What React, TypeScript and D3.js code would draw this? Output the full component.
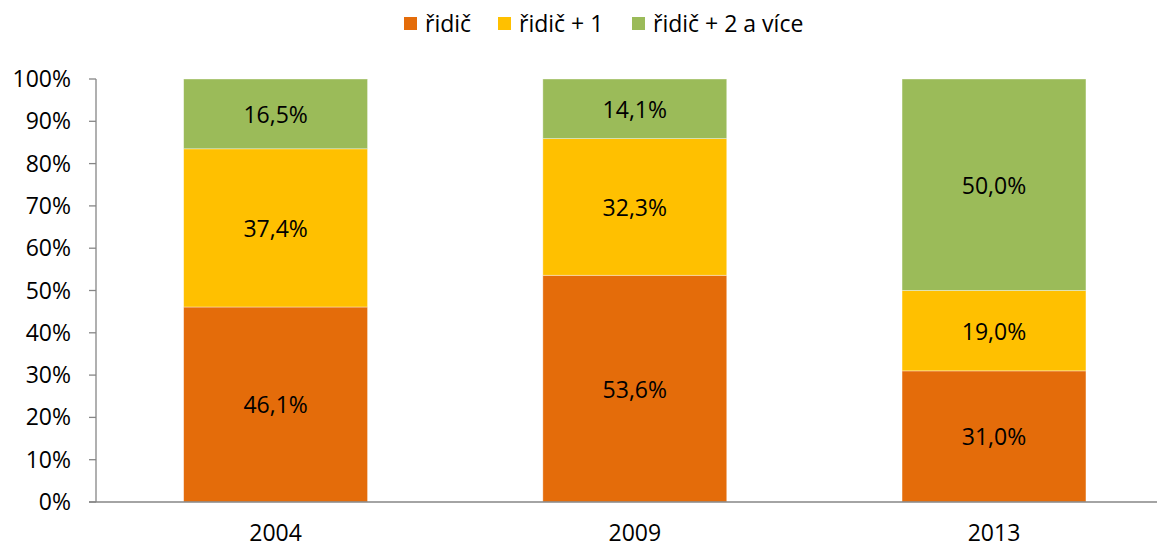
import React from "react";
import * as d3 from "d3";

const categories = ["2004", "2009", "2013"];
const seriesNames = ["řidič", "řidič + 1", "řidič + 2 a více"];
const ridic = [46.1, 53.6, 31.0];
const ridic1 = [37.4, 32.3, 19.0];
const ridic2 = [16.5, 14.1, 50.0];
const yTicks = [0, 10, 20, 30, 40, 50, 60, 70, 80, 90, 100];
const colors = ["#E46C0A", "#FFC000", "#9BBB59"];

const W = 1157;
const H = 547;
const FONT = "'Open Sans', sans-serif";
const FS = 23;

export default function App() {
  const x = d3.scaleBand<string>().domain(categories).range([96, 1173.6]).paddingInner(0.488).paddingOuter(0.244);
  const y = d3.scaleLinear().domain([0, 100]).range([502, 79]);
  const series = [ridic, ridic1, ridic2];
  const data = categories.map((c, i) => ({ cat: c, s0: ridic[i], s1: ridic1[i], s2: ridic2[i] }));
  const stack = d3.stack<any>().keys(["s0", "s1", "s2"]);
  const stacked = stack(data);
  const fmt = (v: number) => v.toFixed(1).replace(".", ",") + "%";

  const legendItems = [
    { sq: 404, tx: 425 },
    { sq: 498, tx: 519 },
    { sq: 632, tx: 653 },
  ];

  return (
    <svg width={W} height={H} style={{ position: "absolute", left: 0, top: 0, background: "#fff" }} fontFamily={FONT}>
      {seriesNames.map((n, i) => (
        <g key={n}>
          <rect x={legendItems[i].sq} y={17} width={13} height={13} fill={colors[i]} />
          <text x={legendItems[i].tx} y={32} fontSize={FS} fill="#000">{n}</text>
        </g>
      ))}
      {stacked.map((layer, si) => (
        <g key={si}>
          {layer.map((d, ci) => {
            const cat = categories[ci];
            const x0 = x(cat)!;
            const y0 = y(d[1]);
            const y1 = y(d[0]);
            const v = series[si][ci];
            return (
              <g key={cat}>
                <rect x={x0} y={y0} width={x.bandwidth()} height={y1 - y0} fill={colors[si]} stroke="#ffffff" strokeOpacity={0.5} strokeWidth={0.75} />
                <text x={x0 + x.bandwidth() / 2} y={(y0 + y1) / 2 + 9} fontSize={FS} textAnchor="middle" fill="#000">{fmt(v)}</text>
              </g>
            );
          })}
        </g>
      ))}
      <line x1={96} x2={96} y1={79} y2={502} stroke="#868686" strokeWidth={1.3} />
      {yTicks.map((t) => (
        <g key={t}>
          <line x1={89} x2={96} y1={y(t)} y2={y(t)} stroke="#868686" strokeWidth={1.3} />
          <text x={71} y={y(t) + 8} fontSize={FS} textAnchor="end" fill="#000">{t}%</text>
        </g>
      ))}
      <line x1={89} x2={W} y1={502} y2={502} stroke="#868686" strokeWidth={1.3} />
      {categories.map((c) => (
        <text key={c} x={x(c)! + x.bandwidth() / 2} y={541} fontSize={FS} textAnchor="middle" fill="#000">{c}</text>
      ))}
    </svg>
  );
}
